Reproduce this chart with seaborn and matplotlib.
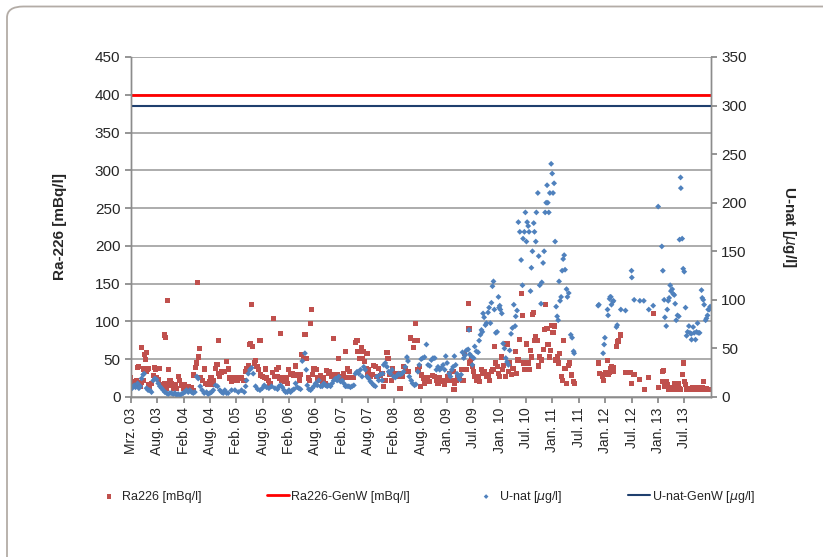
import matplotlib
matplotlib.use("Agg")
import matplotlib.pyplot as plt
import seaborn as sns
import pandas as pd
from matplotlib.patches import FancyBboxPatch

# Ra226 samples: days since 1 March 2003, activity in mBq/l
ra_day = [0, 9, 16, 27, 39, 50, 62, 43, 52, 73, 91, 107, 100, 84, 96, 114, 123, 109, 75, 86,
          118, 130, 141, 159, 169, 194, 153, 175, 191, 228, 237, 251, 257, 205, 221, 232, 244,
          255, 267, 278, 289, 301, 312, 323, 335, 346, 358, 369, 380, 392, 403, 415, 426, 428,
          444, 449, 460, 469, 456, 472, 487, 501, 510, 524, 535, 547, 556, 565, 579, 588, 601,
          597, 608, 620, 638, 651, 665, 677, 688, 702, 715, 729, 740, 756, 768, 784, 793, 802,
          813, 820, 829, 843, 852, 861, 870, 882, 888, 898, 911, 920, 929, 939, 950, 966, 975,
          984, 995, 825,
          1023, 1007, 1001, 1016, 1030, 1039, 1053, 1062, 1071, 1075, 1089, 1103, 1114, 1125,
          1137, 1148, 1159, 1153, 1166, 1180, 1189, 1200, 1228, 1234, 1212, 1221, 1239, 1250,
          1257, 1266, 1275, 1284, 1296, 1307, 1318, 1330, 1337, 1348, 1357, 1371, 1380, 1386,
          1393, 1409, 1416, 1425, 1439, 1452, 1466, 1470, 1480, 1493, 1507, 1520, 1534, 1545,
          1552, 1561, 1575, 1584, 1591, 1598, 1607, 1613, 1616, 1625, 1636, 1648, 1659, 1670,
          1682, 1693, 1704, 1716, 1727, 1738, 1750, 1756, 1766, 1779, 1788, 1802, 1811, 1825,
          1838, 1852, 1863, 1875, 1893, 1909, 1931, 1938, 1954, 1947, 1961, 1970, 1979, 1988,
          1999,
          2007, 2023, 2042, 2060, 2076, 2087, 2098, 2110, 2121, 2133, 2144, 2155, 2167, 2178,
          2190, 2201, 2208, 2212, 2224, 2235, 2247, 2258, 2269, 2281, 2292, 2304, 2310, 2315,
          2319, 2326, 2333, 2342, 2349, 2360, 2372, 2383, 2395, 2406, 2417, 2429, 2440, 2452,
          2463, 2474, 2486, 2493, 2502, 2511, 2520, 2531, 2538, 2547, 2561, 2570, 2577, 2588,
          2600, 2611, 2625, 2634, 2645, 2657, 2666, 2675, 2684, 2693, 2702, 2714, 2720, 2730,
          2739, 2743, 2752, 2759, 2766, 2775, 2784, 2793, 2805, 2816, 2825, 2834, 2843, 2850,
          2862, 2868, 2875, 2884, 2893, 2903, 2912, 2921, 2930, 2941, 2948, 2957, 2966, 2976,
          2987,
          2998, 3010, 3021, 3028, 3192, 3199, 3219, 3226, 3233, 3242, 3256, 3260, 3267, 3274,
          3283, 3295, 3297, 3317, 3322, 3329, 3347, 3379, 3415, 3420, 3431, 3438, 3477, 3506,
          3538, 3568, 3602, 3630, 3634, 3641, 3648, 3659, 3666, 3675, 3684, 3693, 3702, 3712,
          3716, 3725, 3734, 3743, 3750, 3757, 3766, 3773, 3780, 3789, 3796, 3803, 3812, 3821,
          3830, 3839, 3848, 3857, 3866, 3876, 3885, 3894, 3903, 3910, 3921, 3932, 3944, 3955]
ra_val = [26, 18, 20, 16, 22, 19, 14, 39, 40, 65, 56, 59, 50, 37, 38, 37, 38, 34, 19, 22,
          16, 14, 18, 39, 37, 38, 28, 26, 23, 82, 79, 128, 36, 16, 13, 18, 11,
          15, 22, 18, 11, 16, 11, 27, 22, 15, 11, 16, 11, 14, 11, 13, 9, 29,
          39, 45, 53, 64, 152, 26, 22, 37, 18, 16, 20, 25, 16, 22, 38, 43, 75,
          31, 27, 33, 34, 47, 37, 25, 21, 22, 25, 22, 25, 26, 22, 34, 37, 42,
          69, 70, 67, 45, 48, 40, 36, 75, 29, 27, 26, 37, 25, 22, 18, 32, 104,
          27, 36, 122,
          84, 39, 27, 25, 22, 26, 20, 25, 18, 36, 30, 31, 28, 41,
          30, 28, 30, 22, 56, 51, 83, 51, 97, 116, 25, 22, 30, 37,
          38, 36, 25, 22, 28, 20, 25, 18, 35, 31, 34, 27, 30, 77,
          26, 30, 51, 25, 27, 31, 60, 26, 37, 34, 26, 26, 72, 75,
          60, 51, 66, 51, 60, 47, 38, 58, 31, 36, 27, 30, 42, 40,
          27, 38, 28, 31, 14, 22, 59, 51, 30, 22, 37, 31, 27, 31,
          11, 27, 40, 37, 34, 78, 66, 75, 75, 97, 36, 40, 14, 29,
          25,
          18, 25, 20, 28, 27, 22, 18, 25, 20, 22, 16, 22, 27, 31,
          22, 34, 10, 18, 22, 25, 27, 36, 22, 58, 36, 124, 90, 45,
          47, 51, 40, 34, 27, 22, 27, 20, 36, 31, 34, 27, 29, 22,
          34, 36, 67, 45, 40, 31, 27, 53, 36, 42, 27, 70, 34, 45,
          30, 38, 60, 31, 49, 76, 137, 108, 45, 36, 70, 45, 36, 62,
          53, 109, 112, 75, 80, 75, 41, 53, 49, 63, 89, 122, 91, 69,
          53, 62, 95, 85, 94, 49, 53, 45, 58, 27, 22, 75, 38, 18,
          42,
          45, 29, 20, 18, 45, 31, 27, 22, 30, 32, 48, 30, 32, 38,
          40, 34, 39, 67, 73, 74, 82, 32, 32, 18, 30, 30, 23, 10,
          26, 111, 13, 20, 34, 35, 14, 20, 16, 10, 13, 10, 11, 18,
          13, 10, 11, 18, 11, 10, 30, 45, 20, 16, 10, 10, 10, 11,
          10, 13, 10, 13, 10, 13, 10, 10, 13, 20, 10, 11, 10, 10]

# U-nat samples: days since 1 March 2003, concentration in ug/l
u_day = [0, 9, 23, 32, 46, 55, 64, 73, 84, 91, 107, 118, 130, 141, 153, 164, 175, 187, 198,
         210, 221, 232, 244, 255, 267, 278, 289, 301, 312, 323, 335, 346, 358, 369, 380, 392,
         403, 415, 426, 437, 451, 460, 474, 487, 501, 517, 528, 540, 551, 563, 579, 592, 608,
         620, 631, 642, 654, 665, 688, 711, 734, 756, 775, 784, 790, 802, 813, 825, 836, 852,
         866, 882, 898, 911, 927, 943, 961, 984, 1002,
         1012, 1023, 1035, 1046, 1057, 1069, 1080, 1091, 1103, 1114, 1125, 1137, 1148, 1159,
         1171, 1189, 1198, 1205, 1216, 1228, 1239, 1250, 1262, 1273, 1284, 1296, 1307, 1318,
         1330, 1341, 1352, 1364, 1375, 1386, 1398, 1409, 1420, 1432, 1443, 1455, 1466, 1477,
         1489, 1500, 1511, 1523, 1534, 1545, 1557, 1568, 1579, 1591, 1602, 1613, 1625, 1636,
         1648, 1659, 1670, 1682, 1693, 1704, 1716, 1720, 1727, 1738, 1750, 1761, 1772, 1784,
         1795, 1806, 1818, 1829, 1840, 1852, 1863, 1875, 1886, 1893, 1902, 1915, 1924, 1938,
         1947, 1961, 1970, 1983, 1993, 2006,
         2019, 2030, 2042, 2053, 2064, 2076, 2087, 2098, 2110, 2121, 2133, 2144, 2151, 2160,
         2174, 2183, 2192, 2201, 2210, 2219, 2228, 2237, 2247, 2256, 2265, 2274, 2283, 2292,
         2304, 2310, 2315, 2326, 2333, 2342, 2349, 2360, 2372, 2379, 2388, 2395, 2401, 2406,
         2413, 2422, 2429, 2440, 2447, 2456, 2463, 2470, 2477, 2483, 2493, 2502, 2511, 2515,
         2520, 2524, 2534, 2543, 2552, 2561, 2570, 2579, 2588, 2597, 2606, 2616, 2625, 2629,
         2638, 2647, 2657, 2666, 2675, 2679, 2688, 2695, 2702, 2707, 2714, 2720, 2730, 2736,
         2743, 2752, 2757, 2766, 2770, 2780, 2786, 2793, 2802, 2807, 2816, 2823, 2830, 2837,
         2843, 2848, 2855, 2862, 2871, 2878, 2884, 2891, 2898, 2905, 2912, 2919, 2925, 2932,
         2939, 2946, 2953, 2960, 2966, 2976, 2982, 2991,
         3005, 3014, 3024, 3028, 3192, 3197, 3226, 3233, 3238, 3256, 3260, 3270, 3274, 3279,
         3283, 3292, 3297, 3317, 3322, 3347, 3379, 3420, 3422, 3438, 3477, 3504, 3538, 3568,
         3602, 3627, 3634, 3643, 3648, 3657, 3664, 3671, 3677, 3684, 3689, 3698, 3705, 3712,
         3718, 3725, 3734, 3743, 3748, 3755, 3757, 3766, 3773, 3780, 3789, 3796, 3803, 3812,
         3819, 3828, 3830, 3841, 3848, 3857, 3864, 3871, 3876, 3885, 3898, 3903, 3910, 3916,
         3926, 3932, 3939, 3944, 3951, 3957]
u_val = [11, 9, 12, 10, 14, 9, 11, 19, 23, 24, 9, 7, 7, 5, 17, 19, 18, 14, 11,
         9, 7, 5, 4, 3, 4, 4, 3, 4, 2, 3, 2, 3, 4, 5, 7, 5,
         7, 5, 4, 5, 21, 19, 11, 7, 4, 5, 3, 4, 5, 7, 12, 11, 7,
         5, 4, 7, 4, 4, 7, 7, 5, 7, 5, 11, 17, 24, 28, 30, 24, 11,
         8, 7, 9, 12, 10, 9, 11, 9, 8,
         11, 12, 10, 7, 5, 5, 7, 5, 7, 8, 14, 10, 9, 8,
         37, 45, 28, 12, 8, 7, 9, 11, 14, 12, 17, 11, 11, 14,
         12, 11, 12, 11, 14, 17, 19, 17, 21, 16, 17, 14, 11, 11,
         11, 10, 11, 12, 24, 26, 24, 28, 21, 31, 28, 21, 19, 16,
         14, 12, 11, 21, 17, 23, 17, 24, 33, 35, 31, 26, 24, 28,
         21, 20, 22, 24, 23, 24, 26, 31, 41, 37, 21, 17, 14, 12,
         13, 26, 33, 39, 40, 41,
         54, 33, 32, 38, 40, 40, 28, 31, 28, 30, 33, 28, 42, 35,
         24, 21, 28, 31, 42, 33, 24, 21, 18, 23, 46, 40, 43, 48,
         49, 69, 44, 42, 33, 40, 52, 47, 46, 58, 64, 69, 67, 86,
         82, 74, 76, 87, 92, 76, 97, 114, 119, 90, 66, 67, 103, 92,
         94, 90, 86, 55, 50, 40, 36, 33, 48, 65, 71, 95, 73, 83,
         89, 180, 170, 141, 115, 163, 170, 190, 160, 180, 176, 170, 109, 133,
         150, 179, 170, 160, 190, 210, 145, 115, 96, 118, 138, 150, 190, 200,
         218, 200, 190, 210, 240, 230, 210, 220, 160, 93, 83, 79, 119, 99,
         103, 130, 142, 146, 131, 111, 103, 107,
         64, 61, 47, 45, 94, 95, 45, 54, 61, 90, 84, 101, 103, 103,
         95, 98, 99, 72, 74, 90, 89, 130, 123, 100, 99, 99, 90, 94,
         196, 155, 130, 100, 82, 73, 90, 99, 102, 115, 109, 111, 106, 105,
         96, 79, 84, 83, 162, 226, 215, 163, 132, 129, 92, 63, 67, 73,
         66, 65, 59, 72, 66, 59, 67, 76, 66, 66, 110, 102, 100, 95,
         79, 81, 84, 90, 90, 93]

# limit values (Grenzwerte)
ra_limit = 400
u_limit = 300
axis_end = 3960

tick_days = [180 * i for i in range(22)]
tick_labels = ["Mrz. 03", "Aug. 03", "Feb. 04", "Aug. 04", "Feb. 05", "Aug. 05",
               "Feb. 06", "Aug. 06", "Feb. 07", "Aug. 07", "Feb. 08", "Aug. 08",
               "Jan. 09", "Jul. 09", "Jan. 10", "Jul. 10", "Jan. 11", "Jul. 11",
               "Jan. 12", "Jul. 12", "Jan. 13", "Jul. 13"]

ra = pd.DataFrame({"day": ra_day, "val": ra_val})
u = pd.DataFrame({"day": u_day, "val": u_val})
ra_lim = pd.DataFrame({"day": [0, axis_end], "val": [ra_limit, ra_limit]})
u_lim = pd.DataFrame({"day": [0, axis_end], "val": [u_limit, u_limit]})

sns.set_theme(style="white")
plt.rcParams["font.family"] = ["Liberation Sans Narrow", "Liberation Sans", "DejaVu Sans"]

red_pts = "#c0504d"
blue_pts = "#4f81bd"
red_line = "#ff0000"
navy_line = "#1f3f6e"
grey = "#a6a6a6"

fig = plt.figure(figsize=(8.23, 5.57), dpi=100)
ax = fig.add_axes([0.159, 0.2873, 0.7044, 0.6104])
ax2 = ax.twinx()

sns.scatterplot(data=ra, x="day", y="val", ax=ax, marker="s", s=14, color=red_pts,
                edgecolor="none", label="Ra226 [mBq/l]", legend=False)
sns.lineplot(data=ra_lim, x="day", y="val", ax=ax, color=red_line, lw=2,
             label="Ra226-GenW [mBq/l]", legend=False)
sns.scatterplot(data=u, x="day", y="val", ax=ax2, marker="D", s=9, color=blue_pts,
                edgecolor="none", label="U-nat [$\\mu$g/l]", legend=False)
sns.lineplot(data=u_lim, x="day", y="val", ax=ax2, color=navy_line, lw=1.5,
             label="U-nat-GenW [$\\mu$g/l]", legend=False)

ax.set_xlim(0, axis_end)
ax.set_ylim(0, 450)
ax2.set_ylim(0, 350)
ax.set_yticks(range(0, 451, 50))
ax2.set_yticks(range(0, 351, 50))
ax.set_xticks(tick_days)
ax.set_xticklabels(tick_labels, rotation=90, fontsize=10)
ax.tick_params(axis="y", labelsize=11, length=4, color="#888888", direction="out", left=True)
ax.tick_params(axis="x", length=4, color="#888888", direction="out", bottom=True)
ax2.tick_params(axis="y", labelsize=11, length=4, color="#888888", direction="out", right=True)

ax.yaxis.grid(True, color=grey, lw=1.3)
ax.xaxis.grid(False)
ax.set_axisbelow(True)

for a in (ax, ax2):
    a.spines["top"].set_visible(False)
    for s in ("left", "right", "bottom"):
        a.spines[s].set_color("#8c8c8c")
        a.spines[s].set_linewidth(1)

ax.set_xlabel("")
ax.set_ylabel("Ra-226 [mBq/l]", fontsize=11, fontweight="bold", labelpad=20)
ax2.set_ylabel("U-nat [$\\mu$g/l]", fontsize=11, fontweight="bold", labelpad=24, rotation=270,
               va="bottom")

h1, l1 = ax.get_legend_handles_labels()
h2, l2 = ax2.get_legend_handles_labels()
fig.legend(h1 + h2, l1 + l2, loc="center", bbox_to_anchor=(0.518, 0.108), ncol=4,
           frameon=False, fontsize=9, handlelength=1.8, handletextpad=0.15,
           columnspacing=5.2, markerscale=0.8)

# rounded frame around the chart (right and bottom edges run off the picture)
frame = FancyBboxPatch((7 / 823, -0.2), 1.2, 1.2 - 6.5 / 557,
                       boxstyle="round,pad=0,rounding_size=0.02",
                       transform=fig.transFigure, facecolor="none", edgecolor="#b3aca6", lw=1.3)
fig.patches.append(frame)

plt.savefig("out.png", dpi=100)
